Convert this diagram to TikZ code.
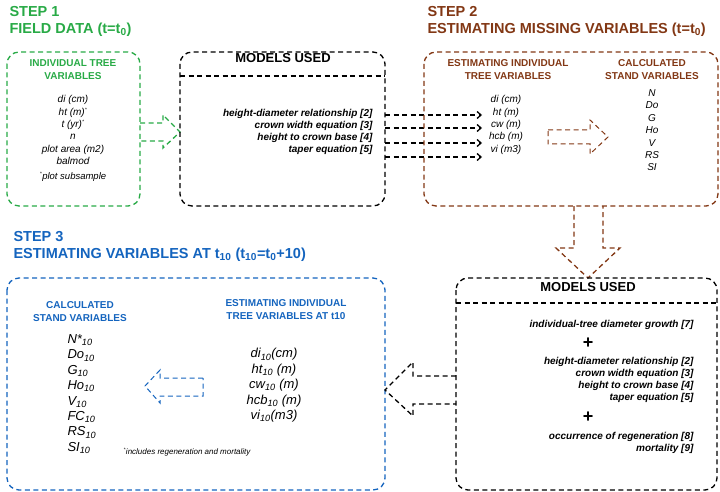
\documentclass[tikz,border=0pt]{standalone}
\usepackage{fontspec}
\setmainfont{Liberation Sans}
\usetikzlibrary{positioning,arrows.meta}
\definecolor{stepgreen}{RGB}{40,170,70}
\definecolor{stepbrown}{RGB}{130,55,20}
\definecolor{stepblue}{RGB}{20,100,190}
\newcommand{\sbs}[1]{\textsubscript{#1}}
\newcommand{\sps}{\textsuperscript{\tiny *}}
\tikzset{
  box/.style={draw,dash pattern=on 5pt off 3.5pt,line width=1.3pt,rounded corners=12pt},
  blk/.style={draw,dash pattern=on 5pt off 3.5pt,line width=1.3pt},
  head/.style={font=\bfseries\fontsize{14.5}{17}\selectfont,anchor=north west,align=left},
  sub/.style={font=\bfseries\fontsize{10}{13}\selectfont,align=center,anchor=north},
  lst/.style={font=\itshape\fontsize{10}{12.4}\selectfont,align=center,anchor=north},
  big/.style={font=\itshape\fontsize{13}{15.4}\selectfont,anchor=north},
  mdl/.style={font=\bfseries\itshape\fontsize{10}{12}\selectfont,align=right,anchor=north east}
}
\begin{document}
\begin{tikzpicture}[x=1pt,y=-1pt]
\useasboundingbox (0,0) rectangle (720,492);

% step 1
\node[head,text=stepgreen] (h1) at (6,3) {STEP 1\\FIELD DATA (t=t\sbs{0})};
\draw[box,stepgreen] (7,52) rectangle (140,206);
\node[sub,text=stepgreen] (g1) at (73,56) {INDIVIDUAL TREE\\VARIABLES};
\node[lst] (gl) at (73,92) {di (cm)\\ht (m)\sps\\t (yr)\sps\\n\\plot area (m2)\\balmod};
\node[font=\itshape\fontsize{9.5}{11}\selectfont] (gn) at (73,177) {\sps plot subsample};
\draw[blk,stepgreen] (140,123) -- (163,123) -- (163,115) -- (180,132) -- (163,148) -- (163,141) -- (140,141);

% models used (1)
\draw[box] (180,52) rectangle (385,206);
\draw[blk] (180,76) -- (385,76);
\node[font=\bfseries\fontsize{13}{15}\selectfont] (m1) at (283,58) {MODELS USED};
\node[mdl] (ml) at (376,106) {height-diameter relationship [2]\\crown width equation [3]\\height to crown base [4]\\taper equation [5]};
\foreach \yy/\nm in {115/a,128/b,143/c,157/d}{
  \coordinate (s\nm) at (385,\yy);
  \coordinate (e\nm) at (482,\yy);
  \draw[blk,-{Straight Barb[length=4pt,width=7pt]}] (s\nm) -- (e\nm);
}

% step 2
\node[head,text=stepbrown] (h2) at (424,3) {STEP 2\\ESTIMATING MISSING VARIABLES (t=t\sbs{0})};
\draw[box,stepbrown] (424,52) rectangle (718,206);
\node[sub,text=stepbrown] (b1) at (508,56) {ESTIMATING INDIVIDUAL\\TREE VARIABLES};
\node[sub,text=stepbrown] (b2) at (652,56) {CALCULATED\\STAND VARIABLES};
\node[lst] (bl) at (506,92) {di (cm)\\ht (m)\\cw (m)\\hcb (m)\\vi (m3)};
\node[lst] (br) at (652,86) {N\\Do\\G\\Ho\\V\\RS\\SI};
\draw[blk,stepbrown,line width=1pt] (548,130) -- (590,130) -- (590,120) -- (608,137) -- (590,154) -- (590,144) -- (548,144) -- cycle;
\draw[blk,stepbrown] (574,206) -- (574,248) -- (556,248) -- (588,278) -- (620,248) -- (603,248) -- (603,206);

% step 3
\node[head,text=stepblue] (h3) at (10,228) {STEP 3\\ESTIMATING VARIABLES AT t\sbs{10} (t\sbs{10}=t\sbs{0}+10)};
\draw[box,stepblue] (7,278) rectangle (385,490);
\node[sub,text=stepblue] (c1) at (80,298) {CALCULATED\\STAND VARIABLES};
\node[sub,text=stepblue] (c2) at (286,296) {ESTIMATING INDIVIDUAL\\TREE VARIABLES AT t10};
\node[big,anchor=north west,align=left] (cl) at (64,331) {N*\sbs{10}\\Do\sbs{10}\\G\sbs{10}\\Ho\sbs{10}\\V\sbs{10}\\FC\sbs{10}\\RS\sbs{10}\\SI\sbs{10}};
\node[big,align=center] (cr) at (274,345) {di\sbs{10}(cm)\\ht\sbs{10} (m)\\cw\sbs{10} (m)\\hcb\sbs{10} (m)\\vi\sbs{10}(m3)};
\node[font=\itshape\fontsize{8}{9}\selectfont,anchor=west] (cn) at (120,452) {\sps includes regeneration and mortality};
\draw[blk,stepblue,line width=1pt] (203,378) -- (160,378) -- (160,370) -- (145,386) -- (160,403) -- (160,396) -- (203,396) -- cycle;
\draw[blk] (456,376) -- (413,376) -- (413,362) -- (385,390) -- (413,416) -- (413,404) -- (456,404);

% models used (2)
\draw[box] (456,278) rectangle (717,490);
\draw[blk] (456,303) -- (717,303);
\node[font=\bfseries\fontsize{13}{15}\selectfont] (m2) at (588,287) {MODELS USED};
\node[mdl,anchor=east] (n1) at (697,325) {individual-tree diameter growth [7]};
\node[font=\bfseries\fontsize{18}{18}\selectfont] (p1) at (588,343) {+};
\node[mdl] (n2) at (697,354) {height-diameter relationship [2]\\crown width equation [3]\\height to crown base [4]\\taper equation [5]};
\node[font=\bfseries\fontsize{18}{18}\selectfont] (p2) at (588,417) {+};
\node[mdl] (n3) at (697,429) {occurrence of regeneration [8]\\mortality [9]};
\end{tikzpicture}
\end{document}
